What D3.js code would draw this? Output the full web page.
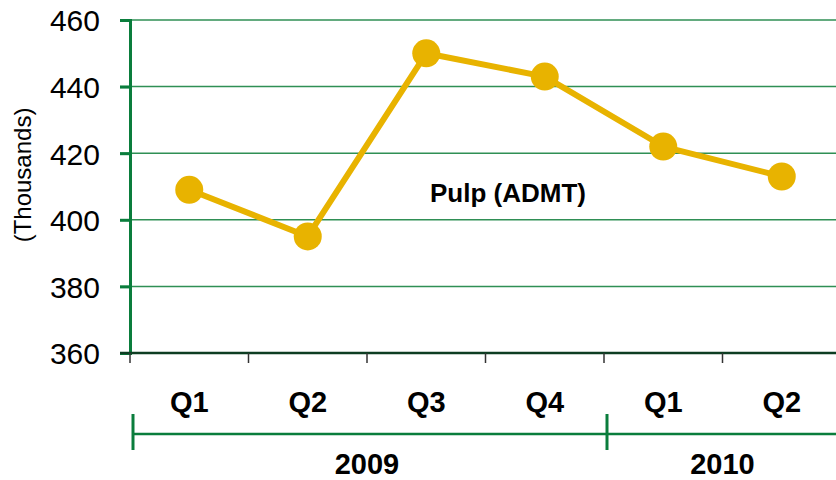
<!DOCTYPE html>
<html>
<head>
<meta charset="utf-8">
<script src="https://cdn.jsdelivr.net/npm/d3@7"></script>
<style>
  body { margin: 0; background: #fff; }
  svg { display: block; font-family: "Liberation Sans", Arial, sans-serif; }
</style>
</head>
<body>
<div id="chart"></div>
<script>
// data
var quarters = ["Q1", "Q2", "Q3", "Q4", "Q1", "Q2"];
var years = ["2009", "2009", "2009", "2009", "2010", "2010"];
var pulp = [409, 395, 450, 443, 422, 413];
var yTicks = [360, 380, 400, 420, 440, 460];

var width = 836, height = 480;
var plotLeft = 130, plotTop = 20, plotBottom = 353;
var bandW = 118.5;

var green = "#0a7d3c",
    gridGreen = "#2f8f55",
    gold = "#e8b300";

var svg = d3.select("#chart").append("svg")
    .attr("width", width)
    .attr("height", height);

// x scale on the index, so the two "Q1" entries stay apart
var x = d3.scaleBand()
    .domain(d3.range(pulp.length))
    .range([plotLeft, plotLeft + bandW * pulp.length])
    .padding(0);

var y = d3.scaleLinear()
    .domain([360, 460])
    .range([plotBottom, plotTop]);

// gridlines
svg.append("g")
    .selectAll("line")
    .data(yTicks.slice(1))
    .enter().append("line")
    .attr("x1", plotLeft - 10)
    .attr("x2", width)
    .attr("y1", function (d) { return y(d); })
    .attr("y2", function (d) { return y(d); })
    .attr("stroke", gridGreen)
    .attr("stroke-width", 1.5);

// y axis
var yAxis = svg.append("g")
    .attr("transform", "translate(" + plotLeft + ",0)")
    .call(d3.axisLeft(y).tickValues(yTicks).tickSize(10).tickPadding(8));
yAxis.select(".domain").attr("stroke", green).attr("stroke-width", 3);
yAxis.selectAll(".tick line").attr("stroke", green).attr("stroke-width", 3);
yAxis.selectAll(".tick text")
    .attr("fill", "#000")
    .style("font-size", "30px")
    .style("font-family", "'Liberation Sans', Arial, sans-serif")
    .attr("dy", "0.36em")
    .attr("x", -30);

// x axis (quarters)
var xAxis = svg.append("g")
    .attr("transform", "translate(0," + plotBottom + ")")
    .call(d3.axisBottom(x).tickSize(0).tickFormat(function (i) { return quarters[i]; }));
xAxis.select(".domain").remove();
xAxis.selectAll(".tick text")
    .attr("fill", "#000")
    .attr("y", 59)
    .attr("dy", 0)
    .style("font-size", "29px")
    .style("font-weight", "bold")
    .style("font-family", "'Liberation Sans', Arial, sans-serif");

// bottom axis line
svg.append("line")
    .attr("x1", plotLeft - 10).attr("x2", width)
    .attr("y1", plotBottom).attr("y2", plotBottom)
    .attr("stroke", "#0d3d22").attr("stroke-width", 2.5);

// small tick marks between quarters
svg.append("g")
    .selectAll("line")
    .data(d3.range(pulp.length))
    .enter().append("line")
    .attr("x1", function (i) { return x(i); })
    .attr("x2", function (i) { return x(i); })
    .attr("y1", plotBottom)
    .attr("y2", plotBottom + 10)
    .attr("stroke", "#333")
    .attr("stroke-width", 1.5);

// year grouping bracket
var yearGroups = d3.groups(d3.range(pulp.length), function (i) { return years[i]; });
var bracketY = 434;
svg.append("line")
    .attr("x1", x(0) + 3).attr("x2", width)
    .attr("y1", bracketY).attr("y2", bracketY)
    .attr("stroke", green).attr("stroke-width", 2.5);

var yg = svg.append("g").selectAll("g")
    .data(yearGroups)
    .enter().append("g");

yg.append("line")
    .attr("x1", function (d) { return x(d[1][0]) + 3; })
    .attr("x2", function (d) { return x(d[1][0]) + 3; })
    .attr("y1", bracketY - 20)
    .attr("y2", bracketY + 16)
    .attr("stroke", green)
    .attr("stroke-width", 3);

yg.append("text")
    .attr("x", function (d) {
        var first = d[1][0], last = d[1][d[1].length - 1];
        return (x(first) + x(last) + x.bandwidth()) / 2;
    })
    .attr("y", 474)
    .attr("text-anchor", "middle")
    .style("font-size", "29px")
    .style("font-weight", "bold")
    .text(function (d) { return d[0]; });

// y axis title
svg.append("text")
    .attr("transform", "translate(31,175) rotate(-90)")
    .attr("text-anchor", "middle")
    .style("font-size", "24px")
    .text("(Thousands)");

// series label
svg.append("text")
    .attr("x", 508)
    .attr("y", 202)
    .attr("text-anchor", "middle")
    .style("font-size", "26px")
    .style("font-weight", "bold")
    .text("Pulp (ADMT)");

// line + markers
var line = d3.line()
    .x(function (d, i) { return x(i) + x.bandwidth() / 2; })
    .y(function (d) { return y(d); });

svg.append("path")
    .datum(pulp)
    .attr("d", line)
    .attr("fill", "none")
    .attr("stroke", gold)
    .attr("stroke-width", 6)
    .attr("stroke-linejoin", "round");

svg.append("g")
    .selectAll("circle")
    .data(pulp)
    .enter().append("circle")
    .attr("cx", function (d, i) { return x(i) + x.bandwidth() / 2; })
    .attr("cy", function (d) { return y(d); })
    .attr("r", 14)
    .attr("fill", gold);
</script>
</body>
</html>
